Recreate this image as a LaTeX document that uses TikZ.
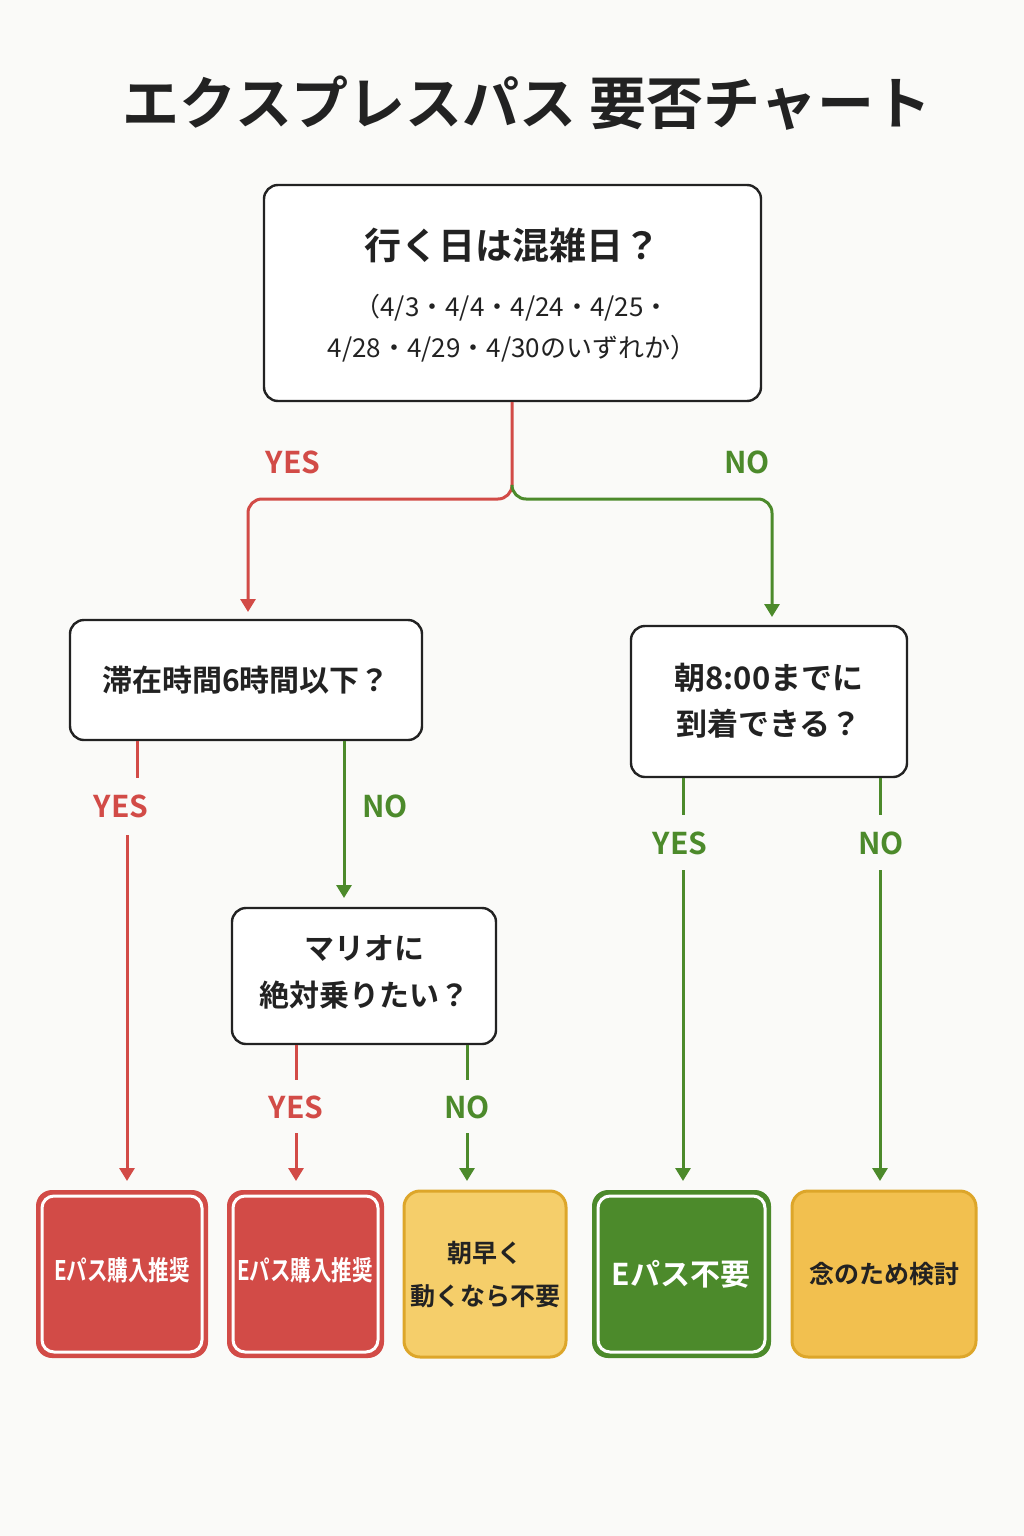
\documentclass[tikz,border=0pt]{standalone}
\usepackage{fontspec}
\setmainfont{Noto Sans CJK JP}[BoldFont={* Bold}]
\usetikzlibrary{arrows.meta}
\definecolor{rd}{HTML}{D24B47}
\definecolor{gn}{HTML}{4C8A2B}
\definecolor{yl}{HTML}{F5CE6A}
\definecolor{yl2}{HTML}{F2C04F}
\definecolor{yb}{HTML}{DDA62A}
\definecolor{bg}{HTML}{FAFAF8}
\definecolor{tx}{HTML}{222222}
\begin{document}
\begin{tikzpicture}[x=1pt,y=-1pt,
  q/.style={draw=tx,line width=2.4pt,rounded corners=14pt,fill=white},
  lab/.style={font=\fontsize{30}{30}\selectfont\bfseries},
  ra/.style={rd,line width=3pt},
  ga/.style={gn,line width=3pt},
  tip/.style={-{Triangle[length=13pt,width=15pt]}},
  qt/.style={font=\fontsize{30}{40}\selectfont\bfseries,text=tx,align=center},
]
\fill[bg] (0,0) rectangle (1024,1536);
\useasboundingbox (0,0) rectangle (1024,1536);
\node[font=\fontsize{57}{57}\selectfont\bfseries,text=tx] (title) at (527,103) {エクスプレスパス\ 要否チャート};
% question boxes
\draw[q] (264,185) rectangle (761,401);
\node[qt,font=\fontsize{37}{37}\selectfont\bfseries] (q1) at (512,245) {行く日は混雑日？};
\node[text=tx,align=center,font=\fontsize{26}{41}\selectfont] (q1b) at (512,328) {（4/3・4/4・4/24・4/25・\\4/28・4/29・4/30のいずれか）};
\coordinate (q1s) at (512,402);
\draw[q] (70,620) rectangle (422,740);
\node[qt] (q2) at (246,680) {滞在時間6時間以下？};
\draw[q] (631,626) rectangle (907,777);
\node[qt,font=\fontsize{31}{46}\selectfont\bfseries] (q3) at (769,701) {朝8:00までに\\到着できる？};
\draw[q] (232,908) rectangle (496,1044);
\node[qt,font=\fontsize{30}{47}\selectfont\bfseries] (q4) at (364,972) {マリオに\\絶対乗りたい？};
% branch from q1
\coordinate (a1) at (248,612); \coordinate (a2) at (772,617);
\draw[ra,tip,rounded corners=14pt] (q1s) -- (512,499) -- (248,499) -- (a1);
\draw[ga,tip,rounded corners=14pt] (512,488) -- (512,499) -- (772,499) -- (a2);
\node[lab,text=rd] (y1) at (293,462) {YES};
\node[lab,text=gn] (n1) at (747,462) {NO};
% q2
\coordinate (b1) at (137,741); \coordinate (b2) at (137,778);
\coordinate (b3) at (127,835); \coordinate (b4) at (127,1181);
\draw[ra] (b1) -- (b2); \draw[ra,tip] (b3) -- (b4);
\node[lab,text=rd] (y2) at (121,806) {YES};
\coordinate (c1) at (344,741); \coordinate (c2) at (344,898);
\draw[ga,tip] (c1) -- (c2);
\node[lab,text=gn] (n2) at (385,806) {NO};
% q3
\coordinate (d1) at (683,778); \coordinate (d2) at (683,815);
\coordinate (d3) at (683,870); \coordinate (d4) at (683,1181);
\draw[ga] (d1) -- (d2); \draw[ga,tip] (d3) -- (d4);
\node[lab,text=gn] (y3) at (680,843) {YES};
\coordinate (e1) at (880,778); \coordinate (e2) at (880,815);
\coordinate (e3) at (880,870); \coordinate (e4) at (880,1181);
\draw[ga] (e1) -- (e2); \draw[ga,tip] (e3) -- (e4);
\node[lab,text=gn] (n3) at (881,843) {NO};
% q4
\coordinate (f1) at (296,1045); \coordinate (f2) at (296,1080);
\coordinate (f3) at (296,1133); \coordinate (f4) at (296,1181);
\draw[ra] (f1) -- (f2); \draw[ra,tip] (f3) -- (f4);
\node[lab,text=rd] (y4) at (296,1107) {YES};
\coordinate (g1) at (467,1045); \coordinate (g2) at (467,1080);
\coordinate (g3) at (467,1133); \coordinate (g4) at (467,1181);
\draw[ga] (g1) -- (g2); \draw[ga,tip] (g3) -- (g4);
\node[lab,text=gn] (n4) at (467,1107) {NO};
% results
\foreach \xa/\xb/\c in {36/208/rd,227/384/rd,592/771/gn}{
  \fill[\c,rounded corners=16pt] (\xa,1190) rectangle (\xb,1358);
  \draw[white,line width=3pt,rounded corners=12pt] (\xa+6,1196) rectangle (\xb-6,1352);
}
\draw[yb,fill=yl,line width=3pt,rounded corners=16pt] (404,1191) rectangle (566,1357);
\draw[yb,fill=yl2,line width=3pt,rounded corners=16pt] (792,1191) rectangle (976,1357);
\node[text=white,font=\fontsize{27}{27}\selectfont\bfseries,inner sep=0pt] (r1) at (122,1270) {\scalebox{0.76}[1]{Eパス購入推奨}};
\node[text=white,font=\fontsize{27}{27}\selectfont\bfseries,inner sep=0pt] (r2) at (305,1270) {\scalebox{0.76}[1]{Eパス購入推奨}};
\node[text=tx,align=center,font=\fontsize{25}{43}\selectfont\bfseries] (r3) at (485,1275) {朝早く\\動くなら不要};
\node[text=white,font=\fontsize{30}{30}\selectfont\bfseries] (r4) at (681,1274) {Eパス不要};
\node[text=tx,font=\fontsize{25}{25}\selectfont\bfseries] (r5) at (884,1274) {念のため検討};
\end{tikzpicture}
\end{document}
